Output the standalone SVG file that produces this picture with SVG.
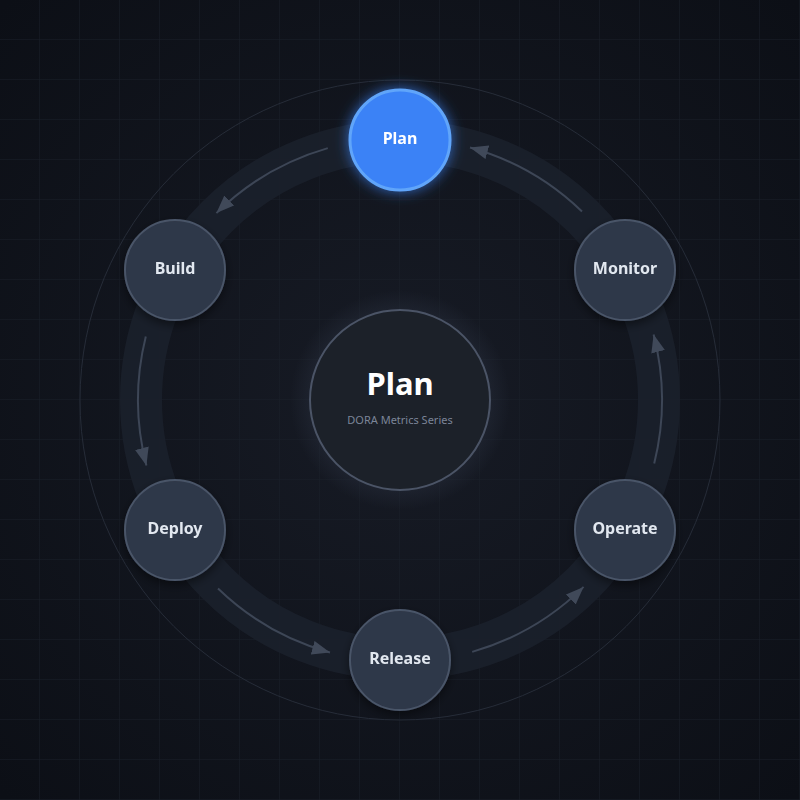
<svg xmlns="http://www.w3.org/2000/svg" width="800" height="800" viewBox="0 0 800 800">
<defs>
<radialGradient id="bg" cx="50%" cy="50%" r="70%">
<stop offset="0" stop-color="#171b25"/>
<stop offset="1" stop-color="#0c0f16"/>
</radialGradient>
<pattern id="grid" width="40" height="40" patternUnits="userSpaceOnUse">
<path d="M40 0V40M0 40H40" fill="none" stroke="#1a1f29" stroke-width="1"/>
</pattern>
<radialGradient id="halo" cx="50%" cy="50%" r="50%">
<stop offset="0.75" stop-color="#2a3140" stop-opacity="0.5"/>
<stop offset="1" stop-color="#2a3140" stop-opacity="0"/>
</radialGradient>
<filter id="blueGlow" x="-50%" y="-50%" width="200%" height="200%">
<feGaussianBlur in="SourceAlpha" stdDeviation="7" result="b"/>
<feFlood flood-color="#3b82f6" flood-opacity="0.75"/>
<feComposite in2="b" operator="in" result="g"/>
<feMerge><feMergeNode in="g"/><feMergeNode in="SourceGraphic"/></feMerge>
</filter>
<filter id="shadow" x="-50%" y="-50%" width="200%" height="200%">
<feDropShadow dx="0" dy="4" stdDeviation="5" flood-color="#000" flood-opacity="0.45"/>
</filter>
<marker id="arrow" viewBox="0 0 18 14" refX="18" refY="7" markerWidth="18" markerHeight="14" markerUnits="userSpaceOnUse" orient="auto">
<path d="M0 0L18 7L0 14z" fill="#404959"/>
</marker>
<style>
.node circle{fill:#2e3748;stroke:#4a5568;stroke-width:2}
.node text{font-family:"Noto Sans","Open Sans",sans-serif;font-weight:700;font-size:16px;fill:#e2e8f0;text-anchor:middle}
.conn path{fill:none;stroke:#3d4656;stroke-width:2;marker-end:url(#arrow)}
</style>
</defs>
<rect width="800" height="800" fill="url(#bg)"/>
<rect width="800" height="800" fill="url(#grid)"/>
<circle cx="400" cy="400" r="320" fill="none" stroke="#262c38" stroke-width="1"/>
<circle cx="400" cy="400" r="259" fill="none" stroke="#1b202b" stroke-opacity="0.9" stroke-width="42"/>
<g id="connectors" class="conn">
<path d="M327.8 148.1A262 262 0 0 0 216.4 213.1"/>
<path d="M145.8 336.6A262 262 0 0 0 146.4 465.6"/>
<path d="M218.0 588.5A262 262 0 0 0 330.0 652.5"/>
<path d="M472.2 651.9A262 262 0 0 0 583.6 586.9"/>
<path d="M654.2 463.4A262 262 0 0 0 653.6 334.4"/>
<path d="M582.0 211.5A262 262 0 0 0 470.0 147.5"/>
</g>
<g id="center">
<circle cx="400" cy="400" r="110" fill="url(#halo)"/>
<circle cx="400" cy="400" r="90" fill="#1c2129" stroke="#4b5466" stroke-width="2"/>
<text x="400" y="395" font-family="Noto Sans,Open Sans,sans-serif" font-weight="700" font-size="31" fill="#ffffff" text-anchor="middle">Plan</text>
<text x="400" y="424" font-family="Noto Sans,Open Sans,sans-serif" font-size="11" fill="#7b8598" text-anchor="middle">DORA Metrics Series</text>
</g>
<g id="node-plan" filter="url(#blueGlow)">
<circle cx="400" cy="140" r="50" fill="#3b82f6" stroke="#60a5fa" stroke-width="3"/>
<text x="400" y="144" font-family="Noto Sans,Open Sans,sans-serif" font-weight="700" font-size="16" fill="#ffffff" text-anchor="middle">Plan</text>
</g>
<g id="node-monitor" class="node" filter="url(#shadow)">
<circle cx="625" cy="270" r="50"/>
<text x="625" y="274">Monitor</text>
</g>
<g id="node-operate" class="node" filter="url(#shadow)">
<circle cx="625" cy="530" r="50"/>
<text x="625" y="534">Operate</text>
</g>
<g id="node-release" class="node" filter="url(#shadow)">
<circle cx="400" cy="660" r="50"/>
<text x="400" y="664">Release</text>
</g>
<g id="node-deploy" class="node" filter="url(#shadow)">
<circle cx="175" cy="530" r="50"/>
<text x="175" y="534">Deploy</text>
</g>
<g id="node-build" class="node" filter="url(#shadow)">
<circle cx="175" cy="270" r="50"/>
<text x="175" y="274">Build</text>
</g>
</svg>
